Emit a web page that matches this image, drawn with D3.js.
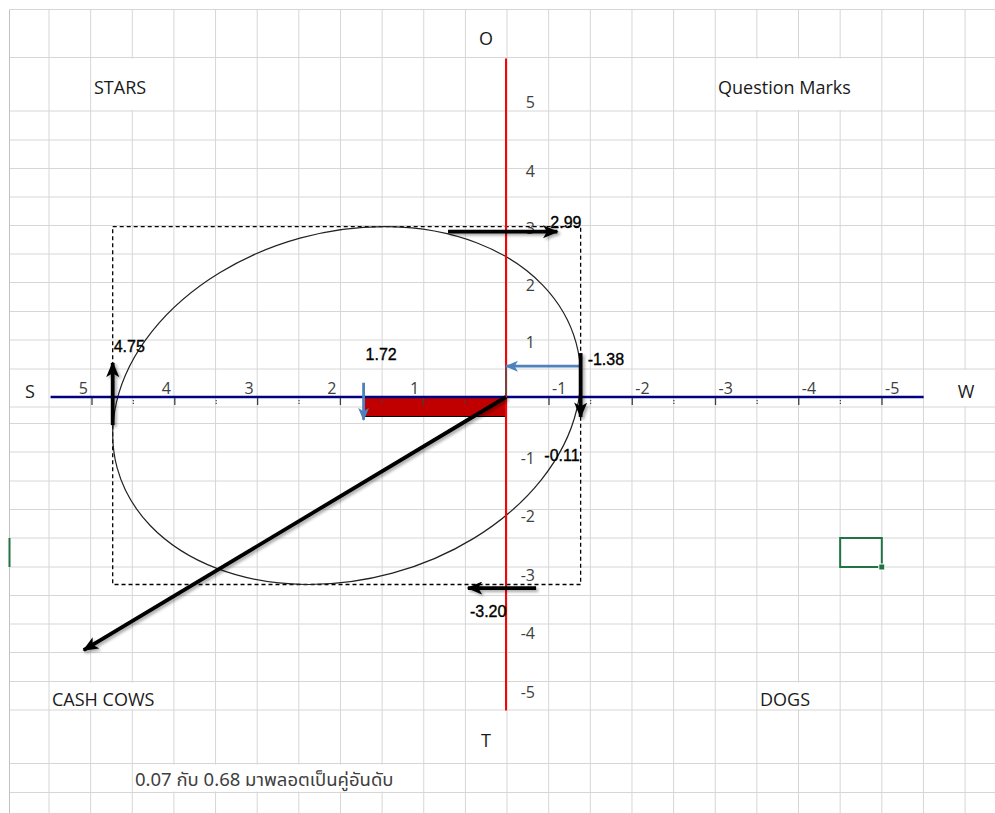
<!DOCTYPE html>
<html>
<head>
<meta charset="utf-8">
<script src="https://cdn.jsdelivr.net/npm/d3@7"></script>
<style>
body { margin: 0; background: #fff; }
svg { display: block; }
</style>
</head>
<body>
<div id="container"></div>
<script>
const width = 995, height = 813;

// ---- data ----
const axisLetters = ['O', 'T', 'S', 'W'];
const quadrants = ['STARS', 'Question Marks', 'CASH COWS', 'DOGS'];
const xTicks = [5, 4, 3, 2, 1, -1, -2, -3, -4, -5];
const xMinor = [4.5, 3.5, 2.5, 1.5, 0.5, -1.5, -2.5, -3.5, -4.5];
const yTicks = [5, 4, 3, 2, 1, -1, -2, -3, -4, -5];
const xSides = [4.75, -1.38];   // S side, W side
const ySides = [2.99, -3.20];   // O side, T side
const vector = [1.72, -0.11];
const note = '0.07 กับ 0.68 มาพลอตเป็นคู่อันดับ';

// arrows drawn over the matrix, in axis units
const blackArrows = [
    { from: [0.7, 2.9], to: [-1.1, 2.9] },
    { from: [-0.7, -3.26], to: [0.46, -3.26] },
    { from: [4.75, -0.48], to: [4.75, 0.6] },
    { from: [-1.38, 0.77], to: [-1.38, -0.34] },
    { from: [0, 0], to: [5.1, -4.32] }
];
const blueArrows = [
    { from: [-1.38, 0.54], to: [0, 0.54] },
    { from: [1.72, 0.25], to: [1.72, -0.39] }
];

// ---- scales (the sheet's axis is not evenly spaced around 0) ----
const xs = d3.scaleLinear().domain([5, 0, -1, -5]).range([92, 506, 549, 882]);
const ys = d3.scaleLinear().domain([5, 4, 0, -5]).range([100, 169, 397, 690]);
const xExtent = [5.5, -5.5];
const yExtent = [5.6, -5.35];

const svg = d3.select('#container').append('svg')
    .attr('width', width).attr('height', height)
    .attr('viewBox', [0, 0, width, height]);

const defs = svg.append('defs');
defs.append('filter').attr('id', 'shadow')
    .attr('filterUnits', 'userSpaceOnUse')
    .attr('x', 0).attr('y', 0).attr('width', width).attr('height', height)
  .append('feDropShadow')
    .attr('dx', 2).attr('dy', 2).attr('stdDeviation', 1.6)
    .attr('flood-color', '#000').attr('flood-opacity', 0.35);

const marker = (id, color, len, wid) => defs.append('marker')
    .attr('id', id).attr('markerUnits', 'userSpaceOnUse')
    .attr('viewBox', '0 0 12 10').attr('refX', 11).attr('refY', 5)
    .attr('markerWidth', len).attr('markerHeight', wid).attr('orient', 'auto')
  .append('path').attr('d', 'M0,0 L12,5 L0,10 L3,5 Z').attr('fill', color);
marker('headBlack', '#000', 16, 13);
marker('headBlue', '#4f81bd', 13, 11);

// ---- spreadsheet grid ----
const colX = d3.range(0, 24).map(k => k === 0 ? 9.5 : 49 + 41.64 * (k - 1));
const rowY = [9.5, 57.5, 111, 140, 168.5, 197, 225.5, 254, 282.5, 311.5, 340, 369, 407, 423.5,
    452, 481, 509.5, 538, 567, 595.5, 624, 652.5, 681.5, 710, 763.5, 792.5];

const grid = svg.append('g').attr('stroke', '#d6d6d6').attr('stroke-width', 1);
grid.selectAll('.v').data(colX).join('line')
    .attr('x1', d => d).attr('x2', d => d).attr('y1', rowY[0]).attr('y2', height)
    .attr('stroke', (d, i) => i === 0 ? '#c0c0c0' : null);
grid.selectAll('.h').data(rowY).join('line')
    .attr('x1', colX[0]).attr('x2', width).attr('y1', d => d).attr('y2', d => d);

// sheet text (cells), with the grid hidden where the text overflows
const cellText = [
    { t: axisLetters[0], x: 486, y: 38, row: [57.5, 9.5], anchor: 'middle' },
    { t: axisLetters[1], x: 486, y: 740, row: [710, 763.5], anchor: 'middle' },
    { t: axisLetters[2], x: 30, y: 391, row: [369, 407], anchor: 'middle' },
    { t: axisLetters[3], x: 966, y: 391, row: [369, 407], anchor: 'middle' },
    { t: quadrants[0], x: 94, y: 87, row: [57.5, 111], anchor: 'start' },
    { t: quadrants[1], x: 718, y: 87, row: [57.5, 111], anchor: 'start' },
    { t: quadrants[2], x: 52, y: 699, row: [681.5, 710], anchor: 'start' },
    { t: quadrants[3], x: 760, y: 699, row: [681.5, 710], anchor: 'start' }
];
const covers = svg.append('g');
const cells = svg.append('g')
    .attr('font-family', "'Open Sans', 'Noto Sans', sans-serif")
    .attr('font-size', 18).attr('fill', '#1a1a1a');
cells.selectAll('text').data(cellText).join('text')
    .attr('x', d => d.x).attr('y', d => d.y)
    .attr('text-anchor', d => d.anchor)
    .attr('dominant-baseline', 'central')
    .text(d => d.t);
cells.append('text')
    .attr('x', 135).attr('y', 780)
    .attr('dominant-baseline', 'central')
    .attr('font-family', "'Noto Sans Thai', 'Leelawadee UI', Tahoma, 'Noto Sans', 'DejaVu Sans', sans-serif")
    .attr('font-size', 18.5).attr('fill', '#404040')
    .text(note);

cells.selectAll('text').each(function(d) {
    const b = this.getBBox();
    const row = d ? d.row : [763.5, 792.5];
    const top = Math.min(row[0], row[1]), bot = Math.max(row[0], row[1]);
    covers.append('rect')
        .attr('x', b.x - 1).attr('width', b.width + 2)
        .attr('y', top + 1).attr('height', bot - top - 2)
        .attr('fill', '#fff');
});

// ---- bounding box (dashed) and tilted ellipse ----
const bx0 = xs(xSides[0]), bx1 = xs(xSides[1]);
const by0 = ys(ySides[0]), by1 = ys(ySides[1]);
svg.append('rect')
    .attr('x', bx0).attr('y', by0)
    .attr('width', bx1 - bx0).attr('height', by1 - by0)
    .attr('fill', 'none').attr('stroke', '#000')
    .attr('stroke-width', 1.3).attr('stroke-dasharray', '4,3');

const cx = (bx0 + bx1) / 2, cy = (by0 + by1) / 2;
const hw = (bx1 - bx0) / 2, hh = (by1 - by0) / 2;
const cov = -0.16 * hw * hh;
const m = (hw * hw + hh * hh) / 2;
const dd = Math.sqrt(Math.pow((hw * hw - hh * hh) / 2, 2) + cov * cov);
const theta = 0.5 * Math.atan2(2 * cov, hw * hw - hh * hh);
svg.append('ellipse')
    .attr('transform', `translate(${cx},${cy}) rotate(${theta * 180 / Math.PI})`)
    .attr('rx', Math.sqrt(m + dd)).attr('ry', Math.sqrt(m - dd))
    .attr('fill', 'none').attr('stroke', '#222').attr('stroke-width', 1.2);

// ---- axes ----
const y0 = ys(0), x0 = xs(0);

svg.append('rect')
    .attr('x', xs(vector[0])).attr('y', y0)
    .attr('width', x0 - xs(vector[0])).attr('height', 19.5)
    .attr('fill', '#c00000').attr('stroke', '#000').attr('stroke-width', 1);

svg.append('line')
    .attr('x1', xs(xExtent[0])).attr('x2', xs(xExtent[1]))
    .attr('y1', y0).attr('y2', y0)
    .attr('stroke', '#000080').attr('stroke-width', 2.5);
svg.append('line')
    .attr('x1', x0).attr('x2', x0)
    .attr('y1', ys(yExtent[0])).attr('y2', ys(yExtent[1]))
    .attr('stroke', '#ff0000').attr('stroke-width', 2);

svg.append('g').selectAll('line').data(xTicks).join('line')
    .attr('x1', d => xs(d)).attr('x2', d => xs(d))
    .attr('y1', y0 + 1).attr('y2', y0 + 8)
    .attr('stroke', '#404040').attr('stroke-width', 1.3);
svg.append('g').selectAll('line').data(xMinor).join('line')
    .attr('x1', d => xs(d)).attr('x2', d => xs(d))
    .attr('y1', y0 + 3).attr('y2', y0 + 8)
    .attr('stroke', '#404040').attr('stroke-width', 1.2).attr('stroke-dasharray', '1.2,1.6');

const tickFont = "'Open Sans', 'Noto Sans', sans-serif";
svg.append('g').selectAll('text').data(xTicks).join('text')
    .attr('x', d => d > 0 ? xs(d) - 4 : xs(d) + 3)
    .attr('y', y0 - 9)
    .attr('text-anchor', d => d > 0 ? 'end' : 'start')
    .attr('dominant-baseline', 'central')
    .attr('font-family', tickFont).attr('font-size', 16).attr('fill', '#404040')
    .text(d => d);
svg.append('g').selectAll('text').data(yTicks).join('text')
    .attr('x', x0 + 29).attr('y', d => ys(d) + 2)
    .attr('text-anchor', 'end')
    .attr('dominant-baseline', 'central')
    .attr('font-family', tickFont).attr('font-size', 16).attr('fill', '#404040')
    .text(d => d);

// small stem at the origin
svg.append('line')
    .attr('x1', x0).attr('x2', x0).attr('y1', ys(0.54)).attr('y2', y0)
    .attr('stroke', '#555').attr('stroke-width', 1.5);

// ---- arrows ----
const pt = p => [xs(p[0]), ys(p[1])];
svg.append('g').selectAll('line').data(blueArrows).join('line')
    .attr('x1', d => pt(d.from)[0]).attr('y1', d => pt(d.from)[1])
    .attr('x2', d => pt(d.to)[0]).attr('y2', d => pt(d.to)[1])
    .attr('stroke', '#4f81bd').attr('stroke-width', 2.8)
    .attr('marker-end', 'url(#headBlue)');
svg.append('g').attr('filter', 'url(#shadow)')
  .selectAll('line').data(blackArrows).join('line')
    .attr('x1', d => pt(d.from)[0]).attr('y1', d => pt(d.from)[1])
    .attr('x2', d => pt(d.to)[0]).attr('y2', d => pt(d.to)[1])
    .attr('stroke', '#000').attr('stroke-width', 3.8)
    .attr('marker-end', 'url(#headBlack)');

// ---- value labels ----
const valueLabels = [
    { t: ySides[0].toFixed(2), at: [-1.1, 2.9], dx: -7, dy: -9, anchor: 'start' },
    { t: xSides[0].toFixed(2), at: [4.75, 0.6], dx: 1, dy: -16, anchor: 'start' },
    { t: vector[0].toFixed(2), at: [vector[0], 0], dx: 2, dy: -43, anchor: 'start' },
    { t: xSides[1].toFixed(2), at: [-1.38, 0.77], dx: 7, dy: 6, anchor: 'start' },
    { t: vector[1].toFixed(2), at: [-1.38, -1], dx: -1, dy: 0, anchor: 'end' },
    { t: ySides[1].toFixed(2), at: [0.46, -3.26], dx: 2, dy: 23, anchor: 'start' }
];
svg.append('g').selectAll('text').data(valueLabels).join('text')
    .attr('x', d => pt(d.at)[0] + d.dx).attr('y', d => pt(d.at)[1] + d.dy)
    .attr('text-anchor', d => d.anchor)
    .attr('dominant-baseline', 'central')
    .attr('font-family', "'Liberation Sans', Arial, sans-serif")
    .attr('font-size', 16).attr('fill', '#000')
    .attr('stroke', '#000').attr('stroke-width', 0.35)
    .text(d => d.t);

// ---- selected cell ----
const sel = svg.append('g');
sel.append('rect')
    .attr('x', colX[20]).attr('y', rowY[17])
    .attr('width', colX[21] - colX[20]).attr('height', rowY[18] - rowY[17])
    .attr('fill', 'none').attr('stroke', '#217346').attr('stroke-width', 2);
sel.append('rect')
    .attr('x', colX[21] - 3).attr('y', rowY[18] - 3).attr('width', 6).attr('height', 6)
    .attr('fill', '#217346').attr('stroke', '#fff').attr('stroke-width', 1);
sel.append('line')
    .attr('x1', colX[0]).attr('x2', colX[0]).attr('y1', rowY[17]).attr('y2', rowY[18])
    .attr('stroke', '#217346').attr('stroke-width', 2);
</script>
</body>
</html>
